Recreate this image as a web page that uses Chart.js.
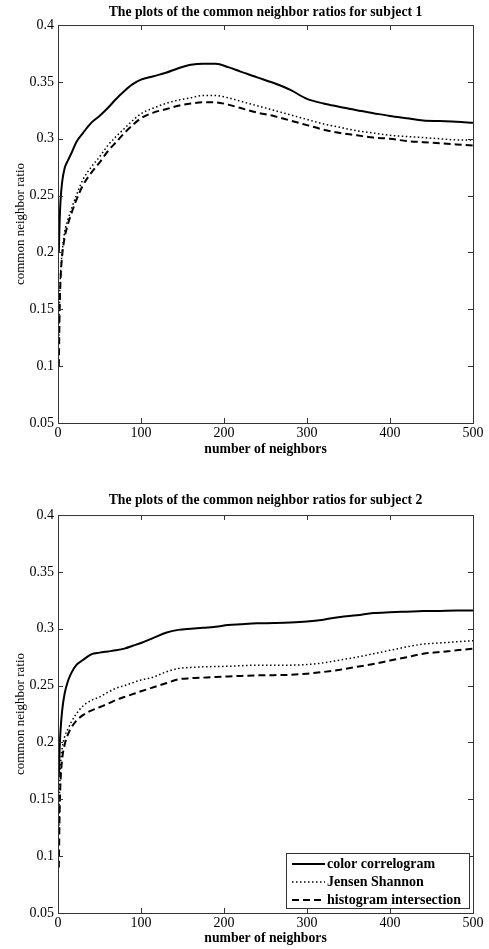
<!DOCTYPE html>
<html>
<head>
<meta charset="utf-8">
<script src="https://cdn.jsdelivr.net/npm/chart.js@4.4.1/dist/chart.umd.min.js"></script>
<style>
  body { margin: 0; background: #fff; }
  canvas { display: block; }
</style>
</head>
<body>
<canvas id="chart1" width="489" height="475"></canvas>
<canvas id="chart2" width="489" height="474"></canvas>
<script>
// number of neighbors (x positions shared by every curve)
const neighbors = [1, 2, 3, 5, 8, 12, 16, 22, 30, 40, 50, 60, 70, 80, 90, 100, 115, 130, 145, 160,
  175, 190, 205, 220, 240, 260, 280, 300, 320, 340, 360, 380, 400, 420, 440, 460, 480, 500];

// subject 1
const s1Correlogram = [0.200, 0.228, 0.245, 0.262, 0.274, 0.281, 0.287, 0.297, 0.305, 0.314, 0.320, 0.327,
  0.335, 0.342, 0.348, 0.352, 0.355, 0.358, 0.362, 0.365, 0.366, 0.366, 0.363, 0.359, 0.354, 0.349, 0.343,
  0.335, 0.331, 0.328, 0.325, 0.3225, 0.320, 0.318, 0.316, 0.3155, 0.315, 0.314];
const s1Jensen = [0.120, 0.160, 0.180, 0.200, 0.218, 0.229, 0.238, 0.250, 0.264, 0.275, 0.284, 0.294,
  0.302, 0.309, 0.316, 0.322, 0.327, 0.331, 0.334, 0.336, 0.338, 0.338, 0.336, 0.333, 0.329, 0.325, 0.321,
  0.317, 0.313, 0.310, 0.307, 0.305, 0.303, 0.302, 0.301, 0.300, 0.299, 0.299];
const s1Histogram = [0.100, 0.150, 0.175, 0.197, 0.213, 0.225, 0.234, 0.246, 0.259, 0.270, 0.279, 0.289,
  0.297, 0.305, 0.312, 0.318, 0.323, 0.326, 0.329, 0.331, 0.332, 0.332, 0.330, 0.327, 0.323, 0.320, 0.316,
  0.312, 0.308, 0.305, 0.303, 0.301, 0.300, 0.298, 0.297, 0.296, 0.295, 0.294];

// subject 2
const s2Correlogram = [0.170, 0.195, 0.210, 0.228, 0.243, 0.254, 0.261, 0.268, 0.2725, 0.2775, 0.279, 0.280,
  0.281, 0.2825, 0.285, 0.2875, 0.292, 0.2965, 0.299, 0.300, 0.3008, 0.3018, 0.3033, 0.304, 0.3048, 0.305,
  0.3054, 0.3063, 0.308, 0.3104, 0.3118, 0.3138, 0.3145, 0.315, 0.3155, 0.3157, 0.316, 0.316];
const s2Jensen = [0.120, 0.160, 0.180, 0.195, 0.205, 0.212, 0.218, 0.225, 0.232, 0.237, 0.240, 0.244,
  0.2477, 0.250, 0.2525, 0.255, 0.2575, 0.262, 0.265, 0.266, 0.2665, 0.2668, 0.267, 0.2675, 0.268, 0.268,
  0.268, 0.2685, 0.270, 0.2725, 0.275, 0.278, 0.281, 0.284, 0.2865, 0.2875, 0.2885, 0.2895];
const s2Histogram = [0.090, 0.140, 0.165, 0.185, 0.198, 0.207, 0.213, 0.219, 0.224, 0.228, 0.231, 0.234,
  0.2374, 0.240, 0.2425, 0.245, 0.2485, 0.252, 0.2555, 0.2565, 0.257, 0.2575, 0.258, 0.2585, 0.259, 0.2592,
  0.2595, 0.2605, 0.262, 0.264, 0.2665, 0.269, 0.272, 0.275, 0.278, 0.2795, 0.281, 0.2825];

const seriesLabels = ["color correlogram", "Jensen Shannon", "histogram intersection"];
const xTicks = [0, 100, 200, 300, 400, 500];
const yTicks = [0.05, 0.1, 0.15, 0.2, 0.25, 0.3, 0.35, 0.4];

const FONT = "'Liberation Serif', 'DejaVu Serif', serif";
const styles = [
  { borderDash: [], borderWidth: 2 },
  { borderDash: [1.5, 2.5], borderWidth: 1.5 },
  { borderDash: [7, 4], borderWidth: 2 }
];

//MATLAB-like box with inward ticks on all sides
const boxPlugin = {
  id: "matlabBox",
  afterDatasetsDraw(chart){
    const {ctx, chartArea: a, scales} = chart;
    ctx.save();
    ctx.strokeStyle = "#333";
    ctx.lineWidth = 1;
    ctx.setLineDash([]);
    ctx.strokeRect(a.left + 0.5, a.top + 0.5, a.right - a.left, a.bottom - a.top);
    ctx.beginPath();
    for(let v of xTicks.slice(1, -1)){
      let px = Math.round(scales.x.getPixelForValue(v)) + 0.5;
      ctx.moveTo(px, a.bottom); ctx.lineTo(px, a.bottom - 5);
      ctx.moveTo(px, a.top); ctx.lineTo(px, a.top + 5);
    }
    for(let v of yTicks.slice(1, -1)){
      let py = Math.round(scales.y.getPixelForValue(v)) + 0.5;
      ctx.moveTo(a.left, py); ctx.lineTo(a.left + 5, py);
      ctx.moveTo(a.right, py); ctx.lineTo(a.right - 5, py);
    }
    ctx.stroke();
    ctx.restore();
  }
};

//legend box in the lower right corner of the plot
const cornerLegend = {
  id: "cornerLegend",
  afterDraw(chart){
    if(!chart.options.plugins.cornerLegend.show) return;
    const {ctx, chartArea: a} = chart;
    const w = 183, h = 55;
    const left = a.right - 4 - w, top = a.bottom - 5 - h;
    ctx.save();
    ctx.fillStyle = "#fff";
    ctx.fillRect(left, top, w, h);
    ctx.strokeStyle = "#333";
    ctx.lineWidth = 1;
    ctx.strokeRect(left + 0.5, top + 0.5, w, h);
    ctx.font = "bold 14px " + FONT;
    ctx.textBaseline = "middle";
    chart.data.datasets.forEach((ds, i) => {
      let y = top + 11 + i * 18;
      ctx.beginPath();
      ctx.setLineDash(ds.borderDash);
      ctx.lineWidth = ds.borderWidth;
      ctx.strokeStyle = "#000";
      ctx.moveTo(left + 6, y); ctx.lineTo(left + 39, y);
      ctx.stroke();
      ctx.fillStyle = "#000";
      ctx.fillText(ds.label, left + 41, y);
    });
    ctx.restore();
  }
};

function makeChart(id, title, series, opts){
  let datasets = series.map((values, i) => ({
    label: seriesLabels[i],
    data: neighbors.map((x, j) => ({x: x, y: values[j]})),
    borderColor: "#000",
    borderWidth: styles[i].borderWidth,
    borderDash: styles[i].borderDash,
    pointRadius: 0,
    cubicInterpolationMode: "monotone",
    fill: false
  }));

  return new Chart(document.getElementById(id), {
    type: "line",
    data: { datasets: datasets },
    options: {
      responsive: false,
      animation: false,
      layout: { padding: { left: 0, right: 16, top: 0, bottom: 0 } },
      plugins: {
        legend: { display: false },
        tooltip: { enabled: false },
        cornerLegend: { show: opts.legend },
        title: {
          display: true,
          text: title,
          fullSize: false,
          color: "#000",
          font: { family: FONT, size: 13.7, weight: "bold" },
          padding: opts.titlePadding
        }
      },
      scales: {
        x: {
          type: "linear",
          min: 0, max: 500,
          afterBuildTicks: (s) => { s.ticks = xTicks.map(v => ({value: v})); },
          afterFit: (s) => { s.height = opts.xHeight; },
          grid: { display: false, drawTicks: false },
          border: { display: false },
          ticks: { color: "#000", padding: 2, maxRotation: 0, font: { family: FONT, size: 14 } },
          title: {
            display: true, text: "number of neighbors", color: "#000",
            font: { family: FONT, size: 13.7, weight: "bold" },
            padding: { top: 0, bottom: opts.xTitleBottom }
          }
        },
        y: {
          type: "linear",
          min: 0.05, max: 0.4,
          afterBuildTicks: (s) => { s.ticks = yTicks.map(v => ({value: v})); },
          afterFit: (s) => { s.width = 58; },
          grid: { display: false, drawTicks: false },
          border: { display: false },
          ticks: {
            color: "#000", padding: 4, font: { family: FONT, size: 14 },
            callback: (v) => String(+v.toFixed(2))
          },
          title: {
            display: true, text: "common neighbor ratio", color: "#000",
            font: { family: FONT, size: 13 },
            padding: { top: 13, bottom: 0 }
          }
        }
      }
    },
    plugins: [boxPlugin, cornerLegend]
  });
}

makeChart("chart1", "The plots of the common neighbor ratios for subject 1",
  [s1Correlogram, s1Jensen, s1Histogram],
  { legend: false, titlePadding: { top: 3.8, bottom: 4.8 }, xHeight: 52, xTitleBottom: 17.8 });

makeChart("chart2", "The plots of the common neighbor ratios for subject 2",
  [s2Correlogram, s2Jensen, s2Histogram],
  { legend: true, titlePadding: { top: 16.8, bottom: 6.8 }, xHeight: 36, xTitleBottom: 2.8 });
</script>
</body>
</html>
